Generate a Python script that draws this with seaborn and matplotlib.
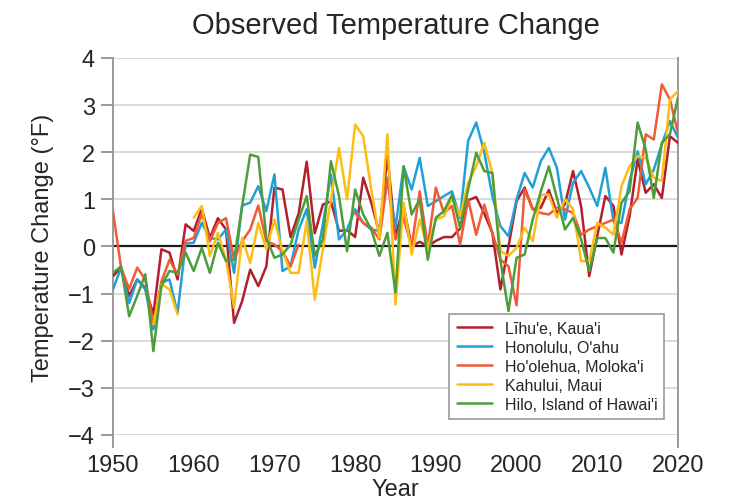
import numpy as np
import pandas as pd
import matplotlib
matplotlib.use("Agg")
import matplotlib.pyplot as plt
import seaborn as sns

years = list(range(1950, 2021))

lihue = [-0.63, -0.45, -1.05, -0.70, -0.88, -1.44, -0.06, -0.13, -0.70, 0.47,
         0.33, 0.80, 0.18, 0.60, 0.36, -1.62, -1.16, -0.49, -0.84, -0.42,
         1.25, 1.21, 0.20, 0.70, 1.80, 0.28, 0.89, 0.96, 0.33, 0.35,
         0.20, 1.46, 0.93, 0.29, 1.92, 0.22, 0.86, 0.00, 0.10, 0.00,
         0.12, 0.20, 0.20, 0.38, 0.98, 1.05, 0.70, 0.29, -0.91, 0.00,
         0.96, 1.25, 0.79, 0.82, 1.20, 0.71, 0.90, 1.60, 0.85, -0.63,
         0.22, 1.07, 0.86, -0.17, 0.64, 1.85, 1.14, 1.32, 1.03, 2.34,
         2.20]

honolulu = [-0.91, -0.45, -1.20, -0.70, -0.91, -1.76, -0.77, -0.70, -1.41, 0.06,
            0.08, 0.50, 0.18, 0.15, 0.36, -0.56, 0.87, 0.93, 1.28, 0.75,
            1.53, -0.52, -0.42, 0.36, 0.79, -0.45, 0.47, 1.53, 0.15, 0.36,
            0.79, 0.50, 0.36, 0.33, 1.46, 0.40, 1.70, 1.21, 1.88, 0.86,
            0.96, 1.07, 1.17, 0.61, 2.24, 2.63, 2.00, 1.07, 0.43, 0.22,
            1.00, 1.56, 1.25, 1.81, 2.09, 1.67, 0.57, 1.35, 1.60, 1.25,
            0.86, 1.67, 0.54, 0.50, 1.39, 2.02, 1.32, 1.63, 2.17, 2.66,
            2.31]

hoolehua = [0.75, -0.45, -0.90, -0.45, -0.70, -1.65, -0.75, -0.28, -0.60, 0.12,
            0.18, 0.70, 0.11, 0.50, 0.60, -0.28, 0.11, 0.36, 0.87, 0.11,
            0.04, -0.10, -0.42, 0.04, np.nan, np.nan, np.nan, np.nan, np.nan, np.nan,
            0.71, 0.50, 0.40, 0.15, 1.42, 0.15, 0.60, 0.00, 1.17, 0.00,
            1.25, 0.71, 0.86, 0.04, 1.00, 0.25, 0.89, 0.29, -0.28, -0.42,
            -1.25, 1.21, 0.79, 0.71, 0.68, 0.82, 0.79, 0.71, 0.25, 0.36,
            0.43, 0.50, 0.57, 0.08, 0.79, 1.03, 2.38, 2.27, 3.44, 3.12,
            2.41]

kahului = [np.nan, np.nan, np.nan, np.nan, np.nan, -1.65, -0.80, -0.91, -1.44, np.nan,
           0.61, 0.86, -0.20, 0.29, -0.28, -1.30, 0.18, -0.35, 0.50, -0.06,
           0.57, -0.10, -0.56, -0.56, 0.54, -1.13, -0.06, 1.00, 2.09, 1.00,
           2.59, 2.34, 1.21, 0.18, 2.38, -1.23, 0.93, -0.17, 0.57, -0.03,
           0.57, 0.64, 1.03, 0.64, 1.35, 1.70, 2.20, 1.56, -0.10, -0.20,
           -0.03, 0.40, 0.11, 1.10, 1.10, 0.61, 1.00, 0.79, -0.31, -0.31,
           0.50, 0.40, 0.25, 1.28, 1.70, 1.92, 1.88, 1.46, 1.39, 3.12,
           3.30]

hilo = [-0.56, -0.42, -1.48, -1.05, -0.59, -2.22, -0.84, -0.52, -0.56, -0.13,
        -0.52, -0.03, -0.56, 0.08, -0.31, -0.28, 0.86, 1.95, 1.90, 0.18,
        -0.24, -0.17, 0.04, 0.57, 1.07, -0.20, 0.15, 1.81, 1.07, -0.10,
        1.21, 0.68, 0.36, -0.20, 0.29, -0.98, 1.70, 0.68, 1.00, -0.28,
        0.61, 0.75, 1.10, 0.40, 1.21, 1.99, 1.60, 1.56, -0.30, -1.37,
        -0.24, -0.17, 0.57, 1.17, 1.70, 1.03, 0.36, 0.61, 0.15, -0.52,
        0.18, 0.18, -0.13, 0.93, 1.17, 2.63, 2.06, 1.03, 2.20, 2.38,
        3.16]

stations = ["Līhu'e, Kaua'i", "Honolulu, O'ahu", "Ho'olehua, Moloka'i",
            "Kahului, Maui", "Hilo, Island of Hawai'i"]
series = [lihue, honolulu, hoolehua, kahului, hilo]
colors = ["#b21f2d", "#22a0d6", "#f05a36", "#fdbd12", "#4c9e3b"]

y_ticks = [-4, -3, -2, -1, 0, 1, 2, 3, 4]
x_ticks = [1950, 1960, 1970, 1980, 1990, 2000, 2010, 2020]

# long table; segments split at missing years so gaps stay gaps
frames = []
for name, vals in zip(stations, series):
    v = pd.Series(vals, dtype=float)
    seg = v.isna().cumsum()
    frames.append(pd.DataFrame({"Year": years, "Value": v,
                                "Station": name,
                                "Segment": [f"{name}-{s}" for s in seg]}))
df = pd.concat(frames).dropna(subset=["Value"])

sns.set_style("white")
plt.rcParams["font.family"] = ["Liberation Sans", "DejaVu Sans"]

fig = plt.figure(figsize=(7.40, 5.02), dpi=100)
ax = fig.add_axes([0.1527, 0.1315, 0.7635, 0.751])

for yt in y_ticks:
    ax.axhline(yt, color="#d9d9d9", lw=1.4, zorder=0)

sns.lineplot(data=df, x="Year", y="Value", hue="Station", units="Segment",
             estimator=None, hue_order=stations, palette=dict(zip(stations, colors)),
             lw=1.8, ax=ax, legend=True, zorder=3)

ax.axhline(0, color="#1a1a1a", lw=1.6, zorder=2)

ax.set_xlim(1950, 2020)
ax.set_ylim(-4, 4)
ax.set_xticks(x_ticks)
ax.set_yticks(y_ticks)
ax.set_yticklabels(["\u22124", "\u22123", "\u22122", "\u22121", "0", "1", "2", "3", "4"])

for s in ["top", "bottom"]:
    ax.spines[s].set_visible(False)
for s in ["left", "right"]:
    ax.spines[s].set_color("#9a9a9a")
    ax.spines[s].set_linewidth(1.4)
    ax.spines[s].set_bounds(-4.25, 4)

ax.tick_params(axis="y", direction="out", length=9, width=1.4, color="#9a9a9a",
               labelsize=17, pad=4, left=True)
ax.tick_params(axis="x", direction="out", length=0, labelsize=17, pad=14)

ax.set_xlabel("Year", fontsize=17, labelpad=1)
ax.set_ylabel("Temperature Change (°F)", fontsize=17, labelpad=10)
ax.set_title("Observed Temperature Change", fontsize=21, pad=18)

handles, labels = ax.get_legend_handles_labels()
leg = ax.legend(handles, labels, loc="lower right", bbox_to_anchor=(0.99, 0.021),
                fontsize=11.5, frameon=True, fancybox=False, framealpha=1,
                edgecolor="#9a9a9a", handlelength=2.2, labelspacing=0.25,
                borderpad=0.45, handletextpad=0.8)
leg.get_frame().set_linewidth(1.2)
for h in leg.get_lines():
    h.set_linewidth(1.8)

fig.savefig("out.png", dpi=100)
